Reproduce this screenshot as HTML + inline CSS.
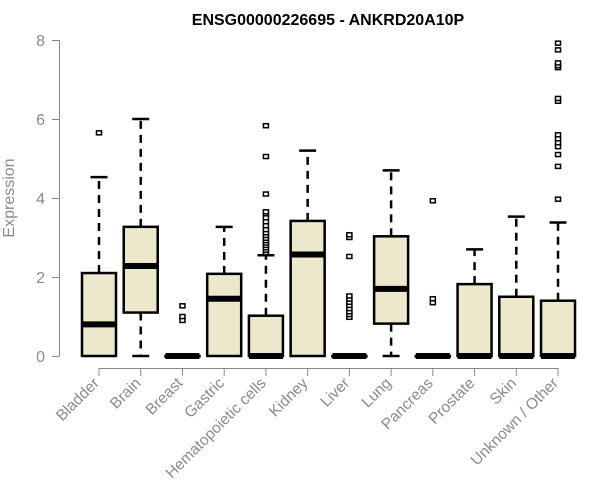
<!DOCTYPE html>
<html><head><meta charset="utf-8"><style>body{margin:0;background:#fff}svg{display:block}</style></head><body>
<svg id="s" width="600" height="500" xmlns="http://www.w3.org/2000/svg" font-family="Liberation Sans, Arial, sans-serif">
<text x="328" y="25" text-anchor="middle" font-weight="bold" font-size="16">ENSG00000226695 - ANKRD20A10P</text>
<g stroke="#888" stroke-width="1" fill="none">
<line x1="59.5" y1="40" x2="59.5" y2="356"/>
<line x1="52" y1="40.5" x2="59.5" y2="40.5"/><line x1="52" y1="119.5" x2="59.5" y2="119.5"/><line x1="52" y1="198.5" x2="59.5" y2="198.5"/><line x1="52" y1="277.5" x2="59.5" y2="277.5"/><line x1="52" y1="356.5" x2="59.5" y2="356.5"/>
<line x1="99" y1="368.5" x2="558" y2="368.5"/>
</g>
<g fill="#8a8a8a" font-size="16" text-anchor="end">
<text x="45" y="46">8</text><text x="45" y="125">6</text><text x="45" y="204">4</text><text x="45" y="283">2</text><text x="45" y="362">0</text>
</g>
<text transform="translate(14,198) rotate(-90)" text-anchor="middle" fill="#8a8a8a" font-size="16">Expression</text>
<g id="xl" fill="#8a8a8a" font-size="15.5" text-anchor="end">
<text data-i="0">Bladder</text><text data-i="1">Brain</text><text data-i="2">Breast</text><text data-i="3">Gastric</text><text data-i="4">Hematopoietic cells</text><text data-i="5">Kidney</text><text data-i="6">Liver</text><text data-i="7">Lung</text><text data-i="8">Pancreas</text><text data-i="9">Prostate</text><text data-i="10">Skin</text><text data-i="11">Unknown / Other</text>
</g>
<g id="g"></g>
</svg>
<script>
var Y=v=>356-39.5*v;
var X=i=>99+i*41.73;
var d=[
[0,0.8,2.1,0,4.53,[5.65]],
[1.1,2.28,3.27,0,6.0,[]],
[0,0,0,0,0,[0.9,1.0,1.27]],
[0,1.45,2.08,0,3.27,[]],
[0,0,1.02,0,2.55,[2.62,2.68,2.74,2.8,2.86,2.92,2.98,3.05,3.12,3.2,3.3,3.4,3.5,3.6,3.65,4.1,5.05,5.83]],
[0,2.57,3.42,0,5.2,[]],
[0,0,0,0,0,[0.98,1.05,1.12,1.2,1.28,1.36,1.44,1.52,2.52,3.0,3.07]],
[0.82,1.7,3.03,0,4.7,[]],
[0,0,0,0,0,[1.35,1.45,3.93]],
[0,0,1.82,0,2.7,[]],
[0,0,1.5,0,3.53,[]],
[0,0,1.4,0,3.38,[3.97,4.8,5.1,5.3,5.4,5.5,5.6,6.45,6.52,7.3,7.35,7.42,7.75,7.92]]
];
var s='',w=17;
d.forEach((r,i)=>{var x=X(i);
 s+=`<line x1="${x}" y1="368" x2="${x}" y2="376" stroke="#888"/>`;
 if(r[4]>r[2]){s+=`<line x1="${x}" y1="${Y(r[2])}" x2="${x}" y2="${Y(r[4])}" stroke="#000" stroke-width="2.5" stroke-dasharray="8,6"/><line x1="${x-8.5}" y1="${Y(r[4])}" x2="${x+8.5}" y2="${Y(r[4])}" stroke="#000" stroke-width="2.5"/>`;}
 if(r[0]>r[3]){s+=`<line x1="${x}" y1="${Y(r[0])}" x2="${x}" y2="${Y(r[3])}" stroke="#000" stroke-width="2.5" stroke-dasharray="8,6"/><line x1="${x-8.5}" y1="${Y(r[3])}" x2="${x+8.5}" y2="${Y(r[3])}" stroke="#000" stroke-width="2.5"/>`;}
 s+=`<rect x="${x-w}" y="${Y(r[2])}" width="${2*w}" height="${Math.max(Y(r[0])-Y(r[2]),0.5)}" fill="#ede7cc" stroke="#000" stroke-width="2.5"/>`;
 s+=`<line x1="${x-w}" y1="${Y(r[1])}" x2="${x+w}" y2="${Y(r[1])}" stroke="#000" stroke-width="6"/>`;
 r[5].forEach(v=>{s+=`<rect x="${x-2.5}" y="${Y(v)-2}" width="5" height="4" fill="#fff" stroke="#000" stroke-width="1.5"/>`;});
});
document.getElementById('g').innerHTML=s;
document.querySelectorAll('#xl text').forEach(t=>{var i=+t.getAttribute('data-i');var x=X(i)+1,y=384;t.setAttribute('x',x);t.setAttribute('y',y);t.setAttribute('transform',`rotate(-45 ${x} ${y})`);});
</script>
</body></html>
